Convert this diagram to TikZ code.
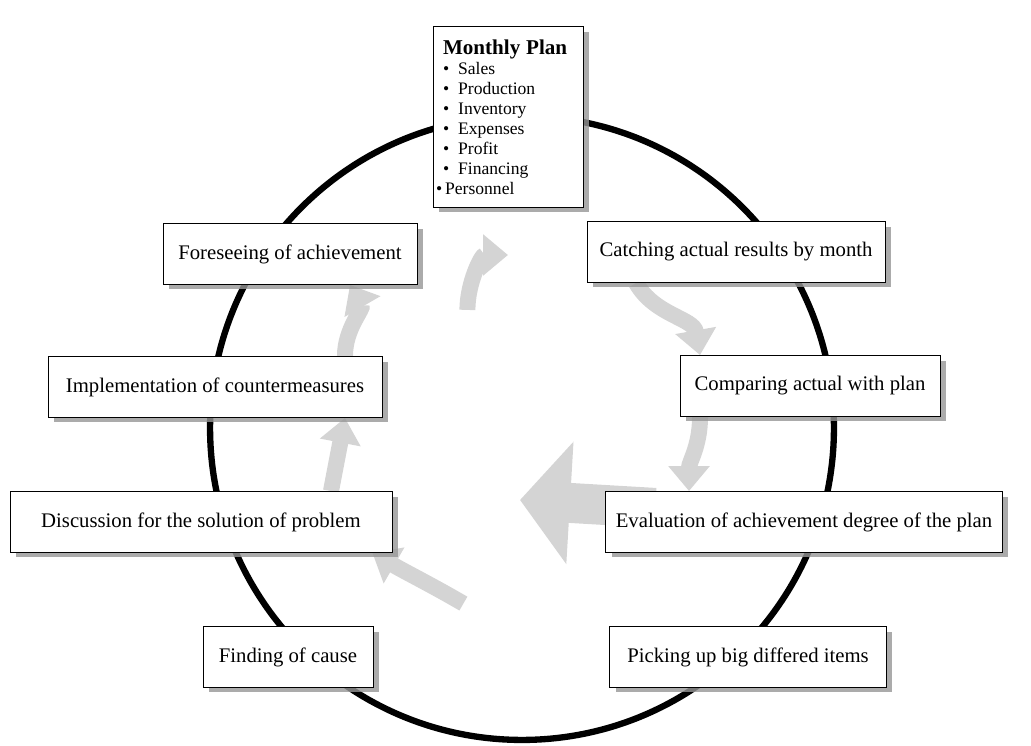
\documentclass[tikz,border=0pt]{standalone}
\usepackage{fontspec}
\setmainfont{Liberation Serif}
\usepackage{tikz}
\usetikzlibrary{arrows.meta,shadows,backgrounds}
\definecolor{FlowGray}{RGB}{212,212,212}
\definecolor{ShadowGray}{RGB}{150,150,150}

\begin{document}
\begin{tikzpicture}[
    x=0.02cm, y=-0.02cm,
    box/.style={draw, fill=white, minimum height=1.22cm, align=center, inner xsep=0.2cm,
                font=\fontsize{11.8}{13}\selectfont, line width=0.5pt,
                drop shadow={shadow xshift=0.12cm, shadow yshift=-0.1cm, fill=ShadowGray, opacity=0.8}},
    planbox/.style={box, align=left, text width=2.6cm, inner xsep=0.2cm, minimum height=3.62cm,
                    font=\fontsize{10}{11.4}\selectfont},
    ring/.style={line width=3.6pt},
    flow/.style={draw=FlowGray, line width=0.32cm, -{Triangle[width=0.8cm,length=0.5cm]}},
    bigflow/.style={draw=FlowGray, line width=0.8cm, -{Triangle[width=2.4cm,length=1cm]}}
]
    \useasboundingbox (0,0) rectangle (1031,746);

    % the cycle
    \draw[ring] (522,428) circle[radius=6.24cm];

    \coordinate (hub) at (520,500);
    \coordinate (turn) at (508,255);

    % boxes
    \node[planbox] (plan) at (508,117) {{\fontsize{12}{14}\selectfont\bfseries Monthly Plan}\\
        \textbullet\hspace{0.18cm}Sales\\
        \textbullet\hspace{0.18cm}Production\\
        \textbullet\hspace{0.18cm}Inventory\\
        \textbullet\hspace{0.18cm}Expenses\\
        \textbullet\hspace{0.18cm}Profit\\
        \textbullet\hspace{0.18cm}Financing\\
        \hspace*{-0.14cm}\textbullet\hspace{0.06cm}Personnel};
    \node[box, minimum width=5.08cm] (foresee)   at (290,254) {Foreseeing of achievement};
    \node[box, minimum width=5.96cm] (catch)     at (736,252) {Catching actual results by month};
    \node[box, minimum width=6.68cm] (implement) at (215,387) {Implementation of countermeasures};
    \node[box, minimum width=5.2cm]  (compare)   at (810,386) {Comparing actual with plan};
    \node[box, minimum width=7.64cm] (discuss)   at (201,522) {Discussion for the solution of problem};
    \node[box, minimum width=7.82cm] (evaluate)  at (804,522) {Evaluation of achievement degree of the plan};
    \node[box, minimum width=3.4cm]  (finding)   at (288,657) {Finding of cause};
    \node[box, minimum width=5.54cm] (picking)   at (748,657) {Picking up big differed items};

    % flow arrows behind the boxes
    \begin{scope}[on background layer]
    \draw[flow] ([xshift=-2.0cm]catch.south) to[out=-60,in=100] ([xshift=-2.2cm]compare.north);
    \draw[flow] ([xshift=-2.2cm]compare.south) to[out=-90,in=90] ([xshift=-2.3cm]evaluate.north);
    \draw[bigflow] ([xshift=1cm,yshift=0.9cm]evaluate.south west) -- (hub);
    \draw[flow] ([xshift=1.8cm,yshift=0.45cm]finding.north east) to[out=150,in=-30] ([xshift=-0.4cm]discuss.south east);
    \draw[flow] ([xshift=2.6cm]discuss.north) -- ([xshift=2.6cm]implement.south);
    \draw[flow] ([xshift=2.6cm]implement.north) to[out=90,in=-60] ([xshift=1.2cm]foresee.south);
    \draw[flow] ([xshift=1cm,yshift=-0.5cm]foresee.south east) to[out=90,in=180] (turn);
    \end{scope}
\end{tikzpicture}
\end{document}
